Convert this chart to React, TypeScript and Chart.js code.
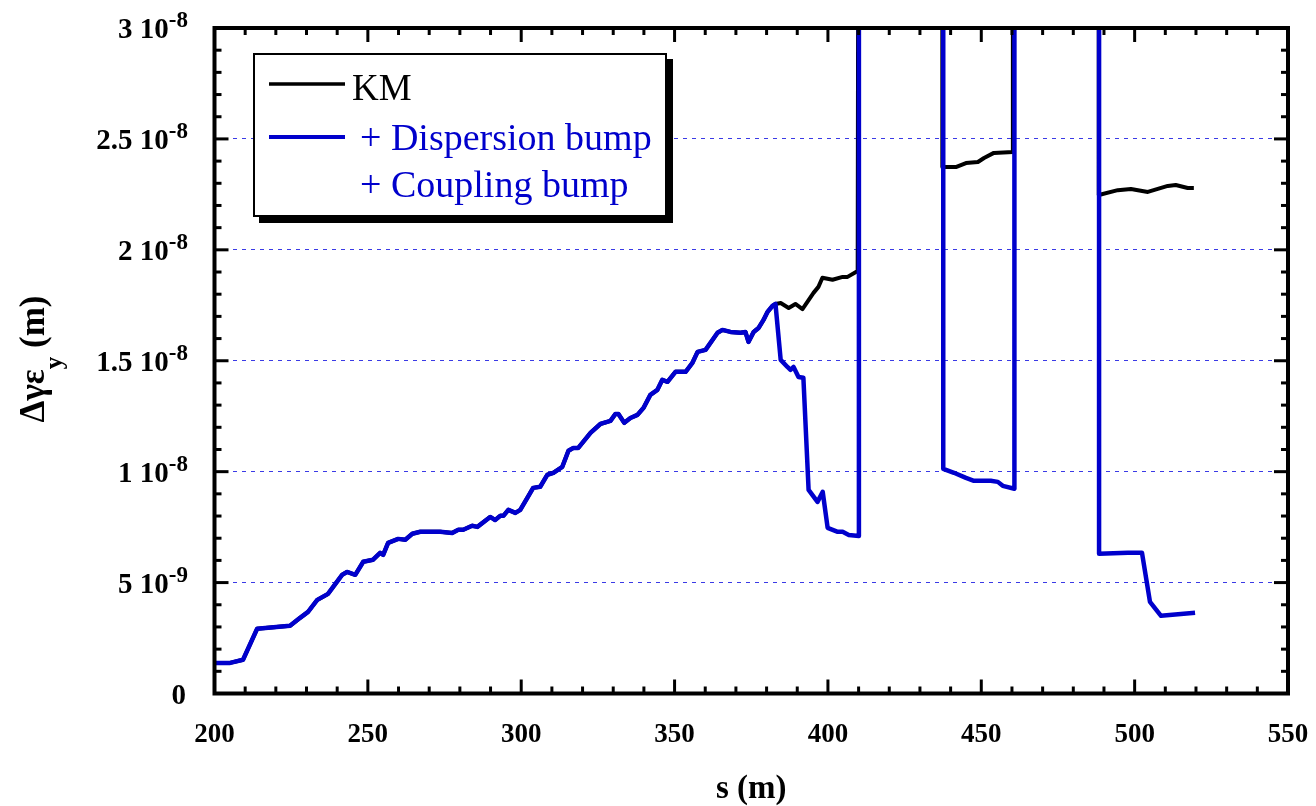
import React, { useEffect, useRef } from "react";
import { Chart, registerables } from "chart.js";

Chart.register(...registerables);

const FONT = "'Liberation Serif', 'Times New Roman', Times, serif";

// Values of Δγε_y are in units of 1e-9 m; s in m.
const OFF = 45; // off-scale (above the top of the axis)

// part common to both curves (the blue curve hides the black one here)
const sharedS = [200, 205.1, 209.3, 213.9, 224.6, 227.9, 230.5, 233.5, 237.0, 241.6, 243.2, 245.9, 248.5, 251.7, 254.0, 255.0, 256.6, 259.9, 262.2, 264.5, 267.1, 273.6, 277.5, 279.5, 281.1, 284.0, 285.7, 289.9, 291.5, 293.2, 294.2, 295.8, 298.1, 299.7, 302.0, 303.9, 306.2, 308.5, 310.5, 313.4, 315.4, 317.0, 318.6, 322.6, 325.8, 329.1, 330.7, 331.7, 333.6, 335.6, 337.9, 339.9, 342.1, 344.4, 346.0, 347.7, 350.3, 353.6, 355.8, 357.5, 360.1, 364.0, 365.6, 368.2, 371.5, 373.1, 374.1, 375.8, 377.4, 379.0, 380.3, 381.9, 382.9];
const sharedV = [1.38, 1.38, 1.52, 2.92, 3.05, 3.41, 3.68, 4.22, 4.49, 5.35, 5.48, 5.35, 5.94, 6.03, 6.34, 6.25, 6.79, 6.97, 6.93, 7.20, 7.29, 7.29, 7.24, 7.38, 7.38, 7.56, 7.51, 7.96, 7.82, 8.01, 8.01, 8.28, 8.14, 8.28, 8.82, 9.27, 9.32, 9.86, 9.95, 10.22, 10.94, 11.07, 11.07, 11.75, 12.15, 12.29, 12.60, 12.60, 12.20, 12.42, 12.56, 12.88, 13.46, 13.69, 14.14, 14.05, 14.50, 14.50, 14.90, 15.40, 15.49, 16.26, 16.39, 16.30, 16.26, 16.30, 15.85, 16.30, 16.48, 16.84, 17.20, 17.47, 17.56];

// KM only
const kmTailS = [384.6, 387.2, 389.4, 391.7, 395.3, 396.9, 398.2, 401.5, 404.8, 406.4, 409.7, 410.0, 437.3, 437.3, 441.7, 445.0, 448.9, 450.9, 454.1, 460.3, 460.3, 488.3, 488.3, 494.5, 498.8, 504.3, 510.8, 513.4, 517.3, 519.3];
const kmTailV = [17.60, 17.38, 17.56, 17.33, 18.06, 18.33, 18.74, 18.65, 18.78, 18.78, 19.05, OFF, OFF, 23.73, 23.73, 23.91, 23.96, 24.14, 24.37, 24.41, OFF, OFF, 22.47, 22.69, 22.74, 22.61, 22.88, 22.92, 22.79, 22.79];

// KM + dispersion bump + coupling bump
const bumpTailS = [384.6, 386.8, 387.8, 388.8, 390.4, 392.0, 393.7, 396.6, 398.3, 399.9, 403.2, 404.8, 406.8, 410.1, 410.1, 437.6, 437.6, 441.1, 445.0, 447.6, 453.1, 455.4, 457.0, 460.8, 460.8, 488.4, 488.4, 497.8, 502.4, 505.0, 508.6, 519.7];
const bumpTailV = [15.04, 14.72, 14.59, 14.72, 14.27, 14.23, 9.18, 8.64, 9.09, 7.47, 7.29, 7.29, 7.15, 7.10, OFF, OFF, 10.13, 9.95, 9.72, 9.59, 9.59, 9.54, 9.36, 9.23, OFF, OFF, 6.30, 6.34, 6.34, 4.13, 3.50, 3.64];

const yTickValues = [0, 5, 10, 15, 20, 25, 30];
const yTickMantissas = ["0", "5 10", "1 10", "1.5 10", "2 10", "2.5 10", "3 10"];
const yTickExponents = ["", "-9", "-8", "-8", "-8", "-8", "-8"];

const legendLabels = ["KM", "+ Dispersion bump", "+ Coupling bump"];
const xTitle = "s (m)";
const yTitleMain = "Δγε";
const yTitleSub = "y";
const yTitleUnit = " (m)";

const BLUE = "#0000cc";

function toPoints(s: number[], v: number[]) {
  return s.map((x, i) => ({ x, y: v[i] }));
}

const overlayPlugin = {
  id: "overlay",
  afterDraw(chart: any) {
    const ctx: CanvasRenderingContext2D = chart.ctx;
    const { left, right, top, bottom } = chart.chartArea;
    const xs = chart.scales.x;
    const ys = chart.scales.y;
    ctx.save();

    // inward ticks
    ctx.strokeStyle = "#000";
    ctx.lineWidth = 3;
    const seg = (x1: number, y1: number, x2: number, y2: number) => {
      ctx.beginPath();
      ctx.moveTo(x1, y1);
      ctx.lineTo(x2, y2);
      ctx.stroke();
    };
    for (let k = 0; k <= 35; k++) {
      const px = xs.getPixelForValue(200 + k * 10);
      const len = k % 5 === 0 ? 14 : 7;
      seg(px, bottom, px, bottom - len);
      seg(px, top, px, top + len);
    }
    for (let k = 0; k <= 30; k++) {
      const py = ys.getPixelForValue(k);
      const len = k % 5 === 0 ? 14 : 7;
      seg(left, py, left + len, py);
      seg(right, py, right - len, py);
    }

    // frame
    ctx.lineWidth = 4;
    ctx.strokeRect(left, top, right - left, bottom - top);

    // y tick labels with exponents
    ctx.fillStyle = "#000";
    const R = 188;
    yTickValues.forEach((v, i) => {
      const py = ys.getPixelForValue(v);
      ctx.textBaseline = "alphabetic";
      ctx.font = `bold 23px ${FONT}`;
      const exp = yTickExponents[i];
      const ew = exp ? ctx.measureText(exp).width : 0;
      if (exp) {
        ctx.textAlign = "left";
        ctx.fillText(exp, R - ew, py - 1);
      }
      ctx.font = `bold 29px ${FONT}`;
      ctx.textAlign = "right";
      ctx.fillText(yTickMantissas[i], exp ? R - ew : R - 2, py + 10);
    });

    // y title (rotated)
    ctx.save();
    ctx.font = `bold 35px ${FONT}`;
    const wMain = ctx.measureText(yTitleMain).width;
    const wUnit = ctx.measureText(yTitleUnit).width;
    ctx.font = `bold 25px ${FONT}`;
    const wSub = ctx.measureText(yTitleSub).width;
    const total = wMain + wSub + wUnit;
    const startY = 359 + total / 2;
    ctx.translate(44, startY);
    ctx.rotate(-Math.PI / 2);
    ctx.textAlign = "left";
    ctx.textBaseline = "alphabetic";
    ctx.font = `bold 35px ${FONT}`;
    ctx.fillText(yTitleMain, 0, 0);
    ctx.font = `bold 25px ${FONT}`;
    ctx.fillText(yTitleSub, wMain, 18);
    ctx.font = `bold 35px ${FONT}`;
    ctx.fillText(yTitleUnit, wMain + wSub, 0);
    ctx.restore();

    // legend
    const bx = 253, by = 53, bw = 414, bh = 164;
    ctx.fillStyle = "#000";
    ctx.fillRect(bx + 6, by + 6, bw, bh);
    ctx.fillStyle = "#fff";
    ctx.fillRect(bx, by, bw, bh);
    ctx.strokeStyle = "#000";
    ctx.lineWidth = 2;
    ctx.strokeRect(bx + 1, by + 1, bw - 2, bh - 2);

    ctx.lineWidth = 3.5;
    ctx.strokeStyle = "#000";
    seg(269, 84, 345, 84);
    ctx.lineWidth = 4;
    ctx.strokeStyle = BLUE;
    seg(269, 137, 345, 137);

    ctx.textAlign = "left";
    ctx.textBaseline = "alphabetic";
    ctx.font = `37px ${FONT}`;
    ctx.fillStyle = "#000";
    ctx.fillText(legendLabels[0], 352, 100);
    ctx.font = `38px ${FONT}`;
    ctx.fillStyle = BLUE;
    ctx.fillText(legendLabels[1], 360, 150);
    ctx.fillText(legendLabels[2], 360, 197);

    ctx.restore();
  },
};

export default function App() {
  const ref = useRef<HTMLCanvasElement | null>(null);
  useEffect(() => {
    if (!ref.current) return;
    const chart = new Chart(ref.current, {
      type: "line",
      data: {
        datasets: [
          {
            label: legendLabels[0],
            data: toPoints([...sharedS, ...kmTailS], [...sharedV, ...kmTailV]),
            borderColor: "#000",
            borderWidth: 4,
            pointRadius: 0,
            tension: 0,
            fill: false,
            borderJoinStyle: "round",
            order: 1,
          },
          {
            label: legendLabels[1] + " " + legendLabels[2],
            data: toPoints([...sharedS, ...bumpTailS], [...sharedV, ...bumpTailV]),
            borderColor: BLUE,
            borderWidth: 4.5,
            pointRadius: 0,
            tension: 0,
            fill: false,
            borderJoinStyle: "round",
            order: 0,
          },
        ],
      },
      options: {
        responsive: false,
        devicePixelRatio: 1,
        animation: false,
        layout: { padding: { left: 0, right: 28, top: 28, bottom: 0 } },
        plugins: { legend: { display: false }, tooltip: { enabled: false } },
        scales: {
          x: {
            type: "linear",
            min: 200,
            max: 550,
            grid: { display: false, drawTicks: false },
            border: { display: false },
            ticks: {
              stepSize: 50,
              autoSkip: false,
              maxRotation: 0,
              padding: 25,
              color: "#000",
              font: { family: FONT, size: 27, weight: "bold" },
              callback: (v: any) => String(v),
            },
            title: {
              display: true,
              text: xTitle,
              color: "#000",
              font: { family: FONT, size: 33, weight: "bold", lineHeight: 1 },
              padding: { top: 0, bottom: 0 },
            },
            afterFit: (scale: any) => {
              scale.height = 112.5;
              scale.paddingLeft = 0;
              scale.paddingRight = 0;
            },
          },
          y: {
            type: "linear",
            min: 0,
            max: 30,
            grid: { display: true, drawTicks: false, color: "#3a3ae6", lineWidth: 1 },
            border: { display: false, dash: [4, 5] },
            ticks: { stepSize: 5, display: false },
            afterFit: (scale: any) => {
              scale.width = 214.5;
              scale.paddingTop = 0;
              scale.paddingBottom = 0;
            },
          },
        },
      },
      plugins: [overlayPlugin],
    } as any);
    return () => chart.destroy();
  }, []);
  return (
    <div style={{ position: "fixed", left: 0, top: 0, width: 1316, height: 806, background: "#fff" }}>
      <canvas ref={ref} width={1316} height={806} style={{ display: "block", width: 1316, height: 806 }} />
    </div>
  );
}
